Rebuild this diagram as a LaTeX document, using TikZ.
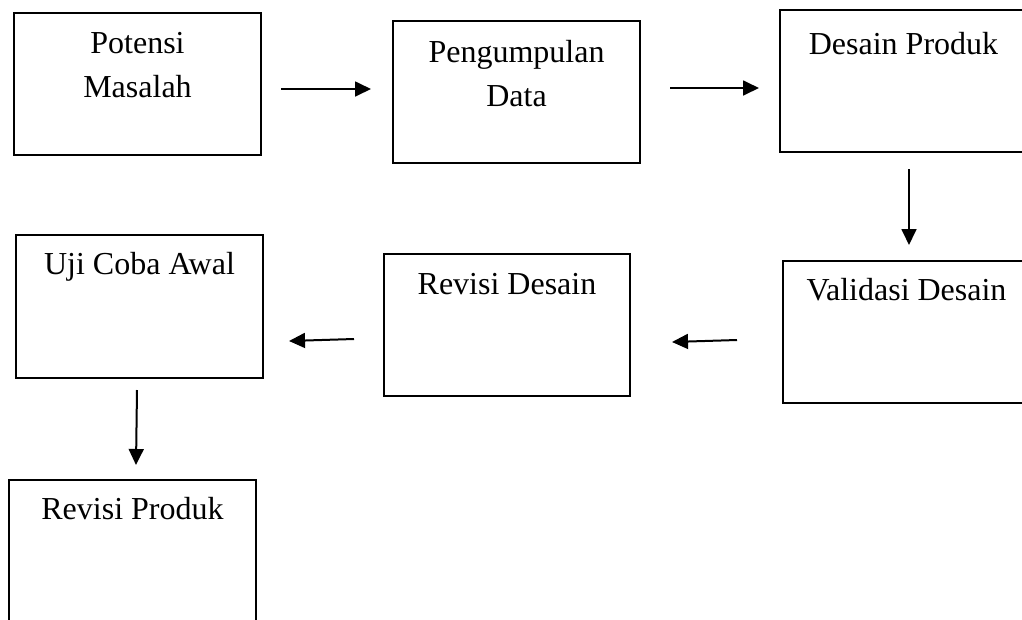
\documentclass[tikz,border=0pt]{standalone}
\usepackage{fontspec}
\setmainfont{Liberation Serif}
\usepackage{tikz}
\usetikzlibrary{arrows.meta, positioning}
\tikzset{box/.style={rectangle,draw,line width=0.75pt,anchor=north west,inner sep=0pt,minimum height=142*0.375pt,minimum width=247*0.375pt},
         lbl/.style={inner sep=0pt,align=center,font=\fontsize{12}{16.5}\selectfont},
         arrow/.style={-{Triangle[length=6pt,width=5.6pt]},line width=0.75pt}}
\begin{document}
\begin{tikzpicture}[x=0.375pt,y=-0.375pt]
    \useasboundingbox (0,0) rectangle (1022,619);
    % Boxes
    \node[box] (potensi) at (13,12) {};
    \node[box] (data) at (392,20) {};
    \node[box] (desain) at (779,9) {};
    \node[box] (validasi) at (782,260) {};
    \node[box,minimum width=246*0.375pt] (revdesain) at (383,253) {};
    \node[box,minimum height=143*0.375pt] (ujicoba) at (15,234) {};
    \node[box] (revproduk) at (8,479) {};
    % Labels
    \node[lbl,below=7.5pt of potensi.north] (potensitxt) {Potensi\\Masalah};
    \node[lbl,below=7.5pt of data.north] (datatxt) {Pengumpulan\\Data};
    \node[lbl,below=8.6pt of desain.north] (desaintxt) {Desain Produk};
    \node[lbl,below=6.75pt of validasi.north] (validasitxt) {Validasi Desain};
    \node[lbl,below=7.5pt of revdesain.north] (revdesaintxt) {Revisi Desain};
    \node[lbl,below=6.75pt of ujicoba.north] (ujicobatxt) {Uji Coba Awal};
    \node[lbl,below=6.75pt of revproduk.north] (revproduktxt) {Revisi Produk};
    % Arrows
    \draw[arrow] ([shift={(19,5)}]potensi.east) -- ([shift={(-21,-3)}]data.west);
    \draw[arrow] ([shift={(29,-4)}]data.east) -- ([shift={(-20,7)}]desain.west);
    \draw[arrow] ([shift={(5.5,16)}]desain.south) -- ([shift={(2.5,-15)}]validasi.north);
    \draw[arrow] ([shift={(-45,8)}]validasi.west) -- ([shift={(41,17)}]revdesain.east);
    \draw[arrow] ([shift={(-29,14)}]revdesain.west) -- ([shift={(25,34.5)}]ujicoba.east);
    \draw[arrow] ([shift={(-2.5,11)}]ujicoba.south) -- ([shift={(3.5,-14)}]revproduk.north);
\end{tikzpicture}
\end{document}
